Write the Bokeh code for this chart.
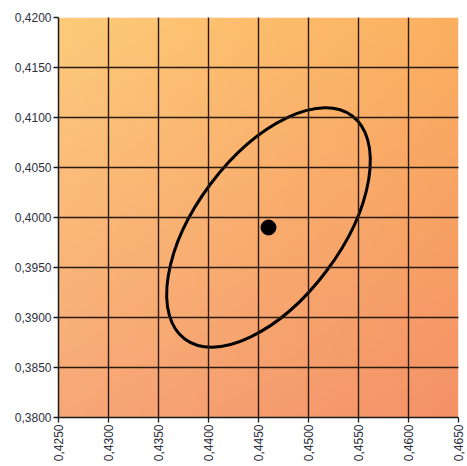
import math
import numpy as np
from bokeh.plotting import figure
from bokeh.models import FixedTicker, Range1d
from bokeh.embed import file_html
from bokeh.resources import INLINE

# Data
x_ticks = [0.4250, 0.4300, 0.4350, 0.4400, 0.4450, 0.4500, 0.4550, 0.4600, 0.4650]
x_labels = ["0,4250", "0,4300", "0,4350", "0,4400", "0,4450", "0,4500", "0,4550", "0,4600", "0,4650"]
y_ticks = [0.3800, 0.3850, 0.3900, 0.3950, 0.4000, 0.4050, 0.4100, 0.4150, 0.4200]
y_labels = ["0,3800", "0,3850", "0,3900", "0,3950", "0,4000", "0,4050", "0,4100", "0,4150", "0,4200"]
center_x = [0.4460]
center_y = [0.3990]
ellipse_width = [0.0279]
ellipse_height = [0.0145]
ellipse_angle_deg = [53.1]

x0, x1 = x_ticks[0], x_ticks[-1]
y0, y1 = y_ticks[0], y_ticks[-1]

p = figure(width=467, height=466, output_backend="svg", toolbar_location=None,
           x_range=Range1d(x0, x1), y_range=Range1d(y0, y1),
           frame_width=400, frame_height=400,
           min_border_left=58, min_border_top=17, min_border_right=9, min_border_bottom=49)
p.outline_line_color = None
p.background_fill_color = "white"
p.border_fill_color = "white"

# gradient background (styling)
n = 120
u = np.linspace(0, 1, n)[None, :]   # left->right
v = np.linspace(0, 1, n)[:, None]   # bottom->top
tl = np.array([253, 203, 122]); tr = np.array([251, 176, 96])
bl = np.array([247, 168, 120]); br = np.array([244, 146, 104])
img = np.zeros((n, n, 4), dtype=np.uint8)
for c in range(3):
    top = tl[c] * (1 - u) + tr[c] * u
    bot = bl[c] * (1 - u) + br[c] * u
    img[:, :, c] = (bot * (1 - v) + top * v).astype(np.uint8)
img[:, :, 3] = 255
p.image_rgba(image=[img.view(dtype=np.uint32).reshape((n, n))], x=x0, y=y0, dw=x1 - x0, dh=y1 - y0)

# grid
for g in (p.xgrid, p.ygrid):
    g.grid_line_color = "#2a1a10"
    g.grid_line_width = 1.4
    g.level = "overlay"

p.xaxis.ticker = FixedTicker(ticks=x_ticks)
p.yaxis.ticker = FixedTicker(ticks=y_ticks)
p.xaxis.major_label_overrides = {t: l for t, l in zip(x_ticks, x_labels)}
p.yaxis.major_label_overrides = {t: l for t, l in zip(y_ticks, y_labels)}
p.xaxis.major_label_orientation = math.pi / 2
for ax in (p.xaxis, p.yaxis):
    ax.axis_line_color = "#1a1a1a"
    ax.axis_line_width = 1.5
    ax.major_tick_line_color = "#1a1a1a"
    ax.major_tick_line_width = 1.3
    ax.major_tick_out = 5
    ax.major_tick_in = 0
    ax.minor_tick_line_color = None
    ax.major_label_text_font = "Liberation Sans"
    ax.major_label_text_font_size = "12px"
    ax.major_label_text_color = "#2e3040"
    ax.major_label_standoff = 2

p.ellipse(x=center_x, y=center_y, width=ellipse_width, height=ellipse_height,
          angle=[math.radians(a) for a in ellipse_angle_deg],
          fill_color=None, line_color="black", line_width=3)
p.scatter(x=center_x, y=center_y, size=15, color="black")

open("out.html", "w").write(file_html(p, INLINE))
